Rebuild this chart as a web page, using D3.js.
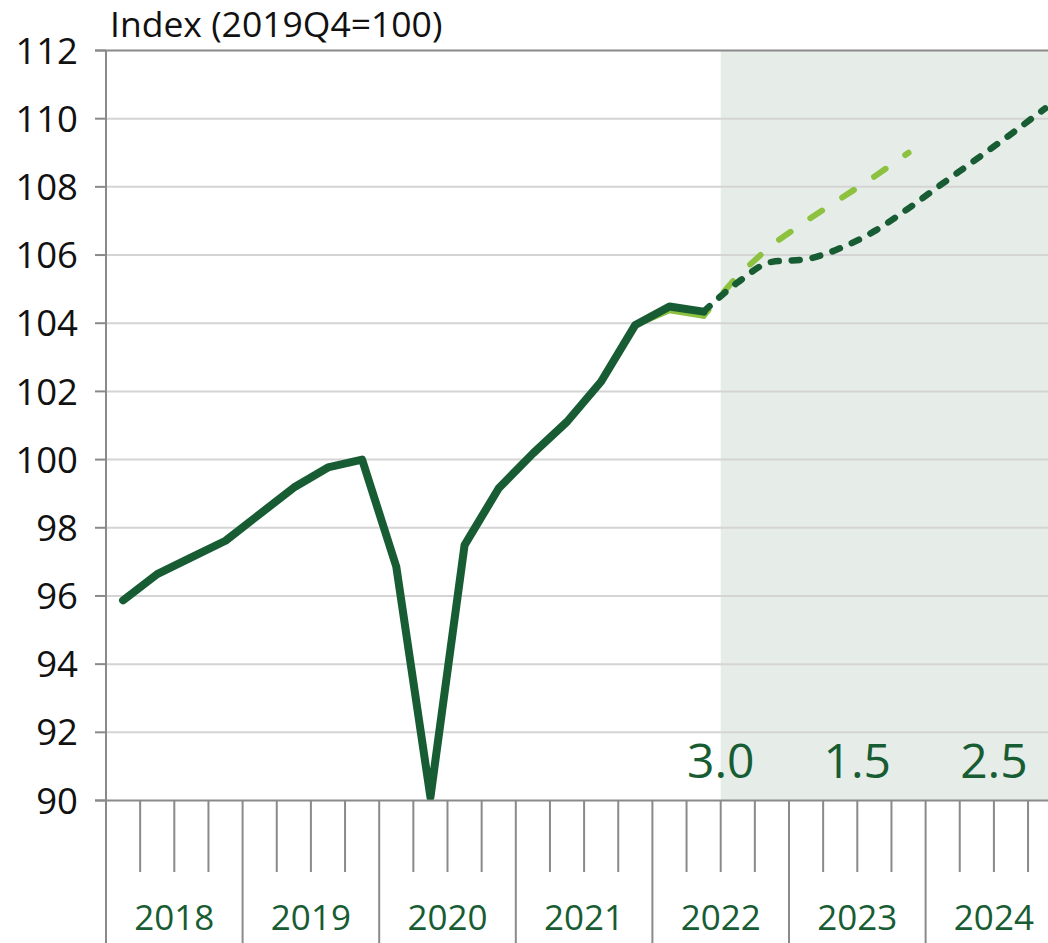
<!DOCTYPE html>
<html>
<head>
<meta charset="utf-8">
<script src="https://cdn.jsdelivr.net/npm/d3@7"></script>
<style>
  body { margin: 0; background: #fff; }
  svg { display: block; font-family: "Open Sans", "Noto Sans", sans-serif; }
</style>
</head>
<body>
<div id="chart"></div>
<script>
// data
const years = [2018, 2019, 2020, 2021, 2022, 2023, 2024];
const quarters = years.flatMap(y => ["Q1", "Q2", "Q3", "Q4"].map(q => y + q));

// outturn, 2018Q1 - 2022Q2
const actual = [95.87, 96.64, 97.13, 97.62, 98.40, 99.18, 99.77, 100.0,
                96.86, 90.1, 97.49, 99.16, 100.18, 101.11, 102.29, 103.95,
                104.49, 104.34];
// new projection, 2022Q2 - 2024Q4
const projection = [104.34, 105.2, 105.8, 105.88, 106.2, 106.7, 107.37,
                    108.1, 108.82, 109.55, 110.3];
// previous projection, 2018Q1 - 2023Q4
const previous = [95.87, 96.64, 97.13, 97.62, 98.40, 99.18, 99.77, 100.0,
                  96.86, 90.1, 97.49, 99.16, 100.18, 101.11, 102.29, 103.95,
                  104.38, 104.22, 105.4, 106.3, 107.0, 107.65, 108.3, 109.0];
const growthYears = [2022, 2023, 2024];
const growthLabels = ["3.0", "1.5", "2.5"];
const yTicks = [90, 92, 94, 96, 98, 100, 102, 104, 106, 108, 110, 112];

const width = 1048;
const height = 943;
const dark = "#175c33";
const light = "#8cc23f";

const svg = d3.select("#chart")
    .append("svg")
    .attr("width", width)
    .attr("height", height);

const x = d3.scaleBand()
    .domain(quarters)
    .range([106, 1062.2])
    .padding(0);

const y = d3.scaleLinear()
    .domain([90, 112])
    .range([800.5, 50.5]);

const xc = q => x(q) + x.bandwidth() / 2;

// forecast shading from 2022Q3
svg.append("rect")
    .attr("x", x("2022Q3"))
    .attr("y", y(112))
    .attr("width", width - x("2022Q3"))
    .attr("height", y(90) - y(112))
    .attr("fill", "#e6ece8");

// gridlines
svg.append("g")
    .selectAll("line")
    .data(yTicks.filter(d => d > 90 && d < 112))
    .join("line")
    .attr("x1", 106)
    .attr("x2", width)
    .attr("y1", d => y(d))
    .attr("y2", d => y(d))
    .attr("stroke", "#d4d4d4")
    .attr("stroke-width", 2);

svg.append("line")
    .attr("x1", 95).attr("x2", width)
    .attr("y1", y(112)).attr("y2", y(112))
    .attr("stroke", "#8a8a8a").attr("stroke-width", 2);

const line = d3.line()
    .x(d => xc(d.q))
    .y(d => y(d.v));

const prevData = previous.map((v, i) => ({q: quarters[i], v: v}));
const actData = actual.map((v, i) => ({q: quarters[i], v: v}));
const projData = projection.map((v, i) => ({q: quarters[i + 17], v: v}));

// previous projection: solid history, dashed forecast
svg.append("path")
    .datum(prevData.slice(0, 18))
    .attr("d", line)
    .attr("fill", "none")
    .attr("stroke", light)
    .attr("stroke-width", 6)
    .attr("stroke-linejoin", "round")
    .attr("stroke-linecap", "round");

const prevDash = svg.append("path")
    .datum(prevData.slice(17))
    .attr("d", line)
    .attr("fill", "none")
    .attr("stroke", light)
    .attr("stroke-width", 6)
    .attr("stroke-dasharray", "14,24")
    .attr("stroke-linecap", "round");

// shift the pattern so a short dash sits at the line's end
const len = prevDash.node().getTotalLength();
prevDash.attr("stroke-dashoffset", ((4 - len) % 38 + 38) % 38);

svg.append("path")
    .datum(actData)
    .attr("d", line)
    .attr("fill", "none")
    .attr("stroke", dark)
    .attr("stroke-width", 8)
    .attr("stroke-linejoin", "round")
    .attr("stroke-linecap", "round");

svg.append("path")
    .datum(projData)
    .attr("d", d3.line().curve(d3.curveMonotoneX).x(d => xc(d.q)).y(d => y(d.v)))
    .attr("fill", "none")
    .attr("stroke", dark)
    .attr("stroke-width", 6.5)
    .attr("stroke-dasharray", "8,13")
    .attr("stroke-linecap", "round");

// x axis baseline and quarter ticks
svg.append("line")
    .attr("x1", 95).attr("x2", width)
    .attr("y1", y(90)).attr("y2", y(90))
    .attr("stroke", "#8a8a8a").attr("stroke-width", 2);

svg.append("g")
    .selectAll("line")
    .data(quarters)
    .join("line")
    .attr("x1", d => x(d))
    .attr("x2", d => x(d))
    .attr("y1", y(90))
    .attr("y2", d => d.endsWith("Q1") ? height : 872)
    .attr("stroke", "#8a8a8a")
    .attr("stroke-width", 2);

// y axis
svg.append("line")
    .attr("x1", 106).attr("x2", 106)
    .attr("y1", y(112)).attr("y2", y(90))
    .attr("stroke", "#8a8a8a").attr("stroke-width", 2);

svg.append("g")
    .selectAll("line")
    .data(yTicks)
    .join("line")
    .attr("x1", 95).attr("x2", 106)
    .attr("y1", d => y(d)).attr("y2", d => y(d))
    .attr("stroke", "#8a8a8a").attr("stroke-width", 2);

svg.append("g")
    .selectAll("text")
    .data(yTicks)
    .join("text")
    .attr("x", 78)
    .attr("y", d => y(d))
    .attr("dy", "0.36em")
    .attr("text-anchor", "end")
    .attr("font-size", 36.5)
    .attr("fill", "#111")
    .text(d => d);

// year labels
svg.append("g")
    .selectAll("text")
    .data(years)
    .join("text")
    .attr("x", d => x(d + "Q1") + x.bandwidth() * 2)
    .attr("y", 930)
    .attr("text-anchor", "middle")
    .attr("font-size", 35)
    .attr("fill", dark)
    .text(d => d);

// annual growth labels
svg.append("g")
    .selectAll("text")
    .data(growthYears)
    .join("text")
    .attr("x", d => x(d + "Q1") + x.bandwidth() * 2)
    .attr("y", 778)
    .attr("text-anchor", "middle")
    .attr("font-size", 48)
    .attr("fill", dark)
    .text((d, i) => growthLabels[i]);

svg.append("text")
    .attr("x", 110)
    .attr("y", 37)
    .attr("font-size", 35.5)
    .attr("fill", "#111")
    .text("Index (2019Q4=100)");
</script>
</body>
</html>
